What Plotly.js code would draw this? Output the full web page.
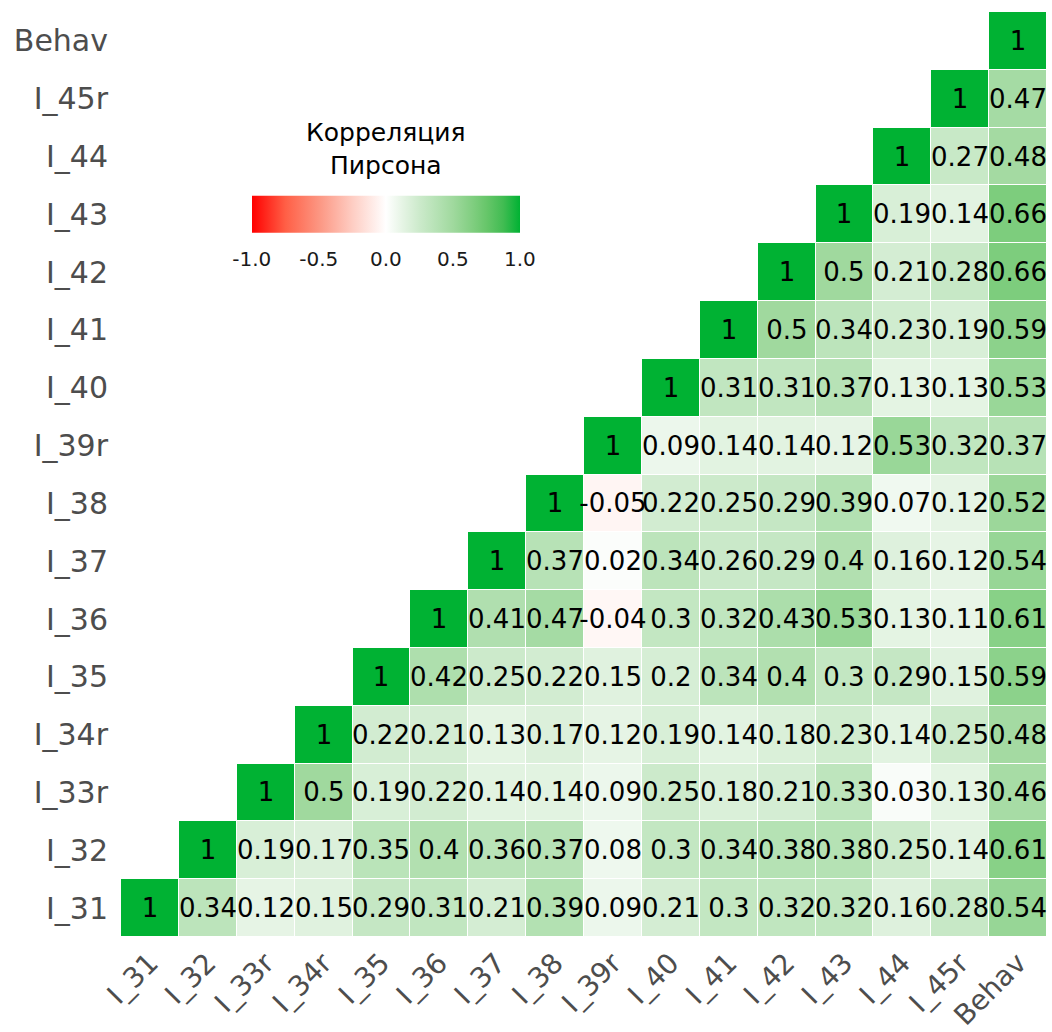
<!DOCTYPE html>
<html>
<head>
<meta charset="utf-8">
<script src="https://cdn.plot.ly/plotly-3.0.1.min.js"></script>
<style>html,body{margin:0;padding:0;background:#fff;}#chart{width:1052px;height:1032px;}</style>
</head>
<body>
<div id="chart"></div>
<script>
const vars = ["I_31","I_32","I_33r","I_34r","I_35","I_36","I_37","I_38","I_39r","I_40","I_41","I_42","I_43","I_44","I_45r","Behav"];

// Each row: correlations from the diagonal to Behav (upper triangle)
const r_I_31  = [1, 0.34, 0.12, 0.15, 0.29, 0.31, 0.21, 0.39, 0.09, 0.21, 0.3, 0.32, 0.32, 0.16, 0.28, 0.54];
const r_I_32  = [1, 0.19, 0.17, 0.35, 0.4, 0.36, 0.37, 0.08, 0.3, 0.34, 0.38, 0.38, 0.25, 0.14, 0.61];
const r_I_33r = [1, 0.5, 0.19, 0.22, 0.14, 0.14, 0.09, 0.25, 0.18, 0.21, 0.33, 0.03, 0.13, 0.46];
const r_I_34r = [1, 0.22, 0.21, 0.13, 0.17, 0.12, 0.19, 0.14, 0.18, 0.23, 0.14, 0.25, 0.48];
const r_I_35  = [1, 0.42, 0.25, 0.22, 0.15, 0.2, 0.34, 0.4, 0.3, 0.29, 0.15, 0.59];
const r_I_36  = [1, 0.41, 0.47, -0.04, 0.3, 0.32, 0.43, 0.53, 0.13, 0.11, 0.61];
const r_I_37  = [1, 0.37, 0.02, 0.34, 0.26, 0.29, 0.4, 0.16, 0.12, 0.54];
const r_I_38  = [1, -0.05, 0.22, 0.25, 0.29, 0.39, 0.07, 0.12, 0.52];
const r_I_39r = [1, 0.09, 0.14, 0.14, 0.12, 0.53, 0.32, 0.37];
const r_I_40  = [1, 0.31, 0.31, 0.37, 0.13, 0.13, 0.53];
const r_I_41  = [1, 0.5, 0.34, 0.23, 0.19, 0.59];
const r_I_42  = [1, 0.5, 0.21, 0.28, 0.66];
const r_I_43  = [1, 0.19, 0.14, 0.66];
const r_I_44  = [1, 0.27, 0.48];
const r_I_45r = [1, 0.47];
const r_Behav = [1];

const rows = [r_I_31, r_I_32, r_I_33r, r_I_34r, r_I_35, r_I_36, r_I_37, r_I_38, r_I_39r, r_I_40, r_I_41, r_I_42, r_I_43, r_I_44, r_I_45r, r_Behav];

const legendTicks = [-1, -0.5, 0, 0.5, 1];
const legendTickText = ["-1.0", "-0.5", "0.0", "0.5", "1.0"];

// Build full matrices (null below the diagonal)
const z = [], txt = [];
rows.forEach((row, i) => {
  const zr = [], tr = [];
  for (let j = 0; j < vars.length; j++) {
    if (j < i) { zr.push(null); tr.push(""); }
    else { const v = row[j - i]; zr.push(v); tr.push(String(v)); }
  }
  z.push(zr); txt.push(tr);
});

const colorscale = [
  [0.0, "rgb(255,0,0)"],
  [0.125, "rgb(255,95,70)"],
  [0.25, "rgb(252,150,130)"],
  [0.375, "rgb(254,205,195)"],
  [0.5, "rgb(255,255,255)"],
  [0.5625, "rgb(229,244,228)"],
  [0.625, "rgb(204,234,203)"],
  [0.6875, "rgb(182,226,181)"],
  [0.75, "rgb(160,217,158)"],
  [0.83, "rgb(125,205,125)"],
  [0.875, "rgb(103,198,106)"],
  [0.9375, "rgb(65,188,82)"],
  [1.0, "rgb(0,178,51)"]
];

const FONT = "DejaVu Sans, sans-serif";

const trace = {
  type: "heatmap",
  x: vars, y: vars, z: z,
  text: txt,
  texttemplate: "%{text}",
  textfont: {family: FONT, size: 26, color: "#000"},
  zmin: -1, zmax: 1,
  colorscale: colorscale,
  xgap: 1, ygap: 1,
  hoverongaps: false,
  hoverinfo: "skip",
  colorbar: {
    orientation: "h",
    x: 0.286, xanchor: "center",
    y: 0.793, yanchor: "middle",
    len: 268, lenmode: "pixels",
    xpad: 0, ypad: 0,
    thickness: 37, thicknessmode: "pixels",
    outlinewidth: 0,
    tickvals: legendTicks, ticktext: legendTickText,
    ticks: "outside", ticklen: 10, tickcolor: "rgba(0,0,0,0)",
    tickfont: {family: FONT, size: 20, color: "#1a1a1a"},
    title: {text: "Корреляция<br>Пирсона", side: "top", font: {family: FONT, size: 25, color: "#000"}}
  }
};

const layout = {
  width: 1052, height: 1032,
  margin: {l: 121, r: 5, t: 12, b: 95},
  paper_bgcolor: "#fff", plot_bgcolor: "#fff",
  font: {family: FONT},
  xaxis: {
    type: "category", categoryorder: "array", categoryarray: vars,
    showgrid: false, zeroline: false, showline: false, ticks: "",
    tickangle: -45, ticklabelstandoff: 3,
    tickfont: {family: FONT, size: 28, color: "#4D4D4D"}
  },
  yaxis: {
    type: "category", categoryorder: "array", categoryarray: vars,
    showgrid: false, zeroline: false, showline: false, ticks: "",
    ticklabelstandoff: 12,
    tickfont: {family: FONT, size: 30, color: "#4D4D4D"}
  }
};

Plotly.newPlot("chart", [trace], layout, {displayModeBar: false, staticPlot: true});
</script>
</body>
</html>
